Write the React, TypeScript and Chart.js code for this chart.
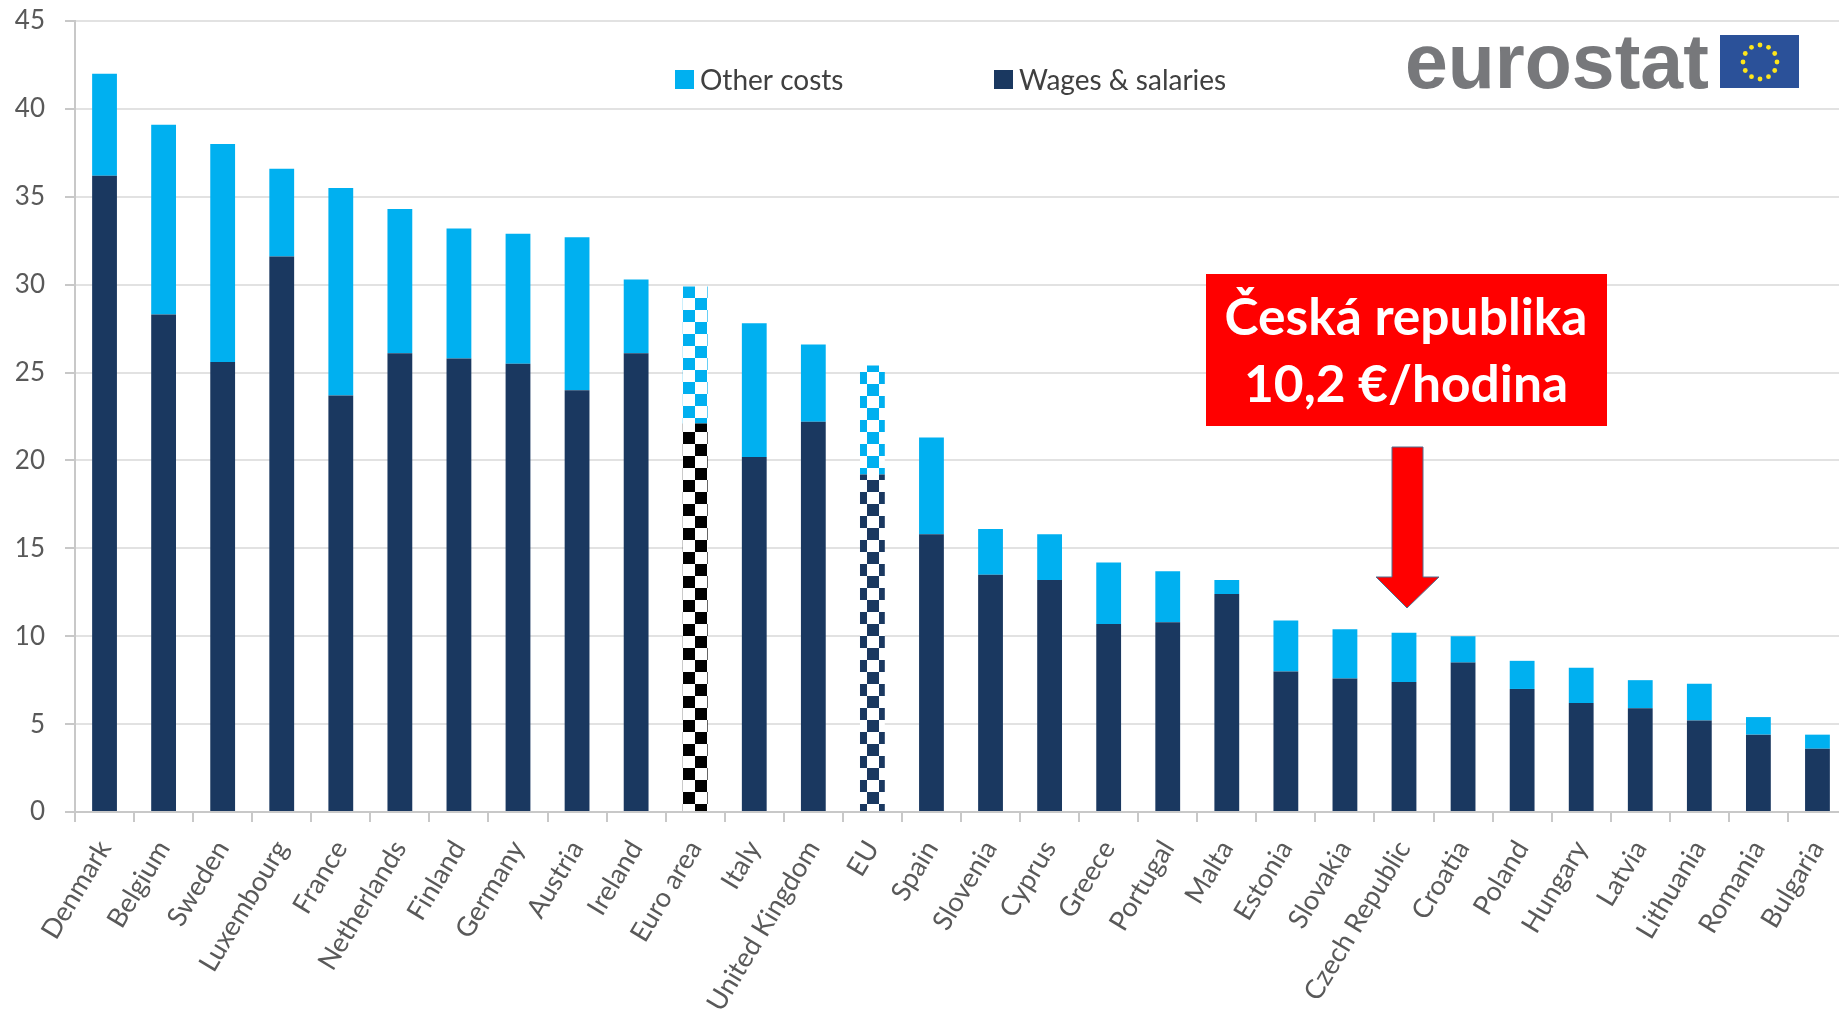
import React, { useEffect, useRef } from "react";
import { Chart, registerables } from "chart.js";

Chart.register(...registerables);

const countries = ["Denmark","Belgium","Sweden","Luxembourg","France","Netherlands","Finland","Germany","Austria","Ireland","Euro area","Italy","United Kingdom","EU","Spain","Slovenia","Cyprus","Greece","Portugal","Malta","Estonia","Slovakia","Czech Republic","Croatia","Poland","Hungary","Latvia","Lithuania","Romania","Bulgaria"];
const wages = [36.2,28.3,25.6,31.6,23.7,26.1,25.8,25.5,24.0,26.1,22.1,20.2,22.2,19.2,15.8,13.5,13.2,10.7,10.8,12.4,8.0,7.6,7.4,8.5,7.0,6.2,5.9,5.2,4.4,3.6];
const otherCosts = [5.8,10.8,12.4,5.0,11.8,8.2,7.4,7.4,8.7,4.2,7.8,7.6,4.4,6.2,5.5,2.6,2.6,3.5,2.9,0.8,2.9,2.8,2.8,1.5,1.6,2.0,1.6,2.1,1.0,0.8];
const yTicks = [0,5,10,15,20,25,30,35,40,45];
const callout = ["Česká republika", "10,2 €/hodina"];
const logoText = "eurostat";

const NAVY = "#1A3860";
const SKY = "#00B0F0";
const FONT = "Lato, Carlito, sans-serif";

function checker(ctx: CanvasRenderingContext2D, color: string, dx: number, dy: number) {
  const c = document.createElement("canvas");
  c.width = 24;
  c.height = 24;
  const g = c.getContext("2d")!;
  g.fillStyle = "#fff";
  g.fillRect(0, 0, 24, 24);
  g.fillStyle = color;
  g.fillRect(0, 0, 12, 12);
  g.fillRect(12, 12, 12, 12);
  const p = ctx.createPattern(c, "repeat")!;
  p.setTransform(new DOMMatrix().translate(dx, dy));
  return p;
}

const overlay = {
  id: "overlay",
  afterDraw(chart: any) {
    const ctx: CanvasRenderingContext2D = chart.ctx;
    ctx.save();

    // legend
    ctx.textBaseline = "middle";
    ctx.textAlign = "left";
    ctx.font = `28px ${FONT}`;
    const legendAt = [{ ds: 1, x: 675 }, { ds: 0, x: 994 }];
    legendAt.forEach(({ ds, x }) => {
      ctx.fillStyle = ds === 1 ? SKY : NAVY;
      ctx.fillRect(x, 70, 19, 19);
      ctx.fillStyle = "#404040";
      ctx.fillText(chart.data.datasets[ds].label, x + 25, 81);
    });

    // logo
    ctx.fillStyle = "#77787B";
    ctx.textBaseline = "alphabetic";
    ctx.font = `bold 77px "Liberation Sans", Arial, sans-serif`;
    ctx.fillText(logoText, 1405, 88, 304);
    ctx.fillStyle = "#2B5199";
    ctx.fillRect(1720, 35, 79, 53);
    ctx.fillStyle = "#FFE61A";
    for (let i = 0; i < 12; i++) {
      const a = (i * Math.PI) / 6;
      ctx.beginPath();
      ctx.arc(1760 + 17 * Math.cos(a), 62 + 17 * Math.sin(a), 2.4, 0, Math.PI * 2);
      ctx.fill();
    }

    // callout box
    ctx.fillStyle = "#FF0000";
    ctx.fillRect(1206, 274, 401, 152);
    ctx.fillStyle = "#FFFFFF";
    ctx.textAlign = "center";
    ctx.font = `bold 51.5px ${FONT}`;
    ctx.fillText(callout[0], 1406, 335);
    ctx.fillText(callout[1], 1406, 402);

    // arrow
    ctx.beginPath();
    ctx.moveTo(1392, 447);
    ctx.lineTo(1423, 447);
    ctx.lineTo(1423, 577);
    ctx.lineTo(1439, 577);
    ctx.lineTo(1407, 608);
    ctx.lineTo(1376, 577);
    ctx.lineTo(1392, 577);
    ctx.closePath();
    ctx.fillStyle = "#FF0000";
    ctx.fill();
    ctx.strokeStyle = "#4F6F8F";
    ctx.lineWidth = 1;
    ctx.stroke();
    ctx.restore();
  },
};

export default function App() {
  const ref = useRef<HTMLCanvasElement>(null);
  useEffect(() => {
    const canvas = ref.current!;
    const ctx = canvas.getContext("2d")!;
    const euroIdx = countries.indexOf("Euro area");
    const euIdx = countries.indexOf("EU");
    const wageFill: any[] = countries.map(() => NAVY);
    const otherFill: any[] = countries.map(() => SKY);
    wageFill[euroIdx] = checker(ctx, "#000000", 11, 0);
    otherFill[euroIdx] = checker(ctx, SKY, 11, 22);
    wageFill[euIdx] = checker(ctx, NAVY, 867, 0);
    otherFill[euIdx] = checker(ctx, SKY, 867, 0);

    const chart = new Chart(canvas, {
      type: "bar",
      data: {
        labels: countries,
        datasets: [
          { label: "Wages & salaries", data: wages, backgroundColor: wageFill, barPercentage: 0.42, categoryPercentage: 1 },
          { label: "Other costs", data: otherCosts, backgroundColor: otherFill, barPercentage: 0.42, categoryPercentage: 1 },
        ],
      },
      options: {
        animation: false,
        responsive: false,
        layout: { padding: { top: 21, right: 5, left: 0, bottom: 0 } },
        plugins: { legend: { display: false }, tooltip: { enabled: false } },
        scales: {
          x: {
            stacked: true,
            afterFit: (s: any) => { s.height = 1013 - 812; s.paddingLeft = 0; s.paddingRight = 0; },
            border: { color: "#C8C8C8", width: 2 },
            grid: { drawOnChartArea: false, drawTicks: true, tickLength: 10, color: "#C8C8C8", lineWidth: 2 },
            ticks: {
              autoSkip: false, minRotation: 59, maxRotation: 59, padding: 13, labelOffset: 0,
              color: "#595959", font: { family: FONT, size: 27 },
            },
          },
          y: {
            stacked: true,
            min: 0,
            max: 45,
            afterFit: (s: any) => { s.width = 75; s.paddingTop = 0; s.paddingBottom = 0; },
            afterBuildTicks: (s: any) => { s.ticks = yTicks.map((value) => ({ value })); },
            border: { color: "#C8C8C8", width: 2 },
            grid: { color: "#E2E2E2", lineWidth: 2, tickLength: 10, tickColor: "#C8C8C8" },
            ticks: { padding: 20, color: "#595959", font: { family: FONT, size: 26 } },
          },
        },
      },
      plugins: [overlay],
    } as any);
    return () => chart.destroy();
  }, []);

  return (
    <div style={{ position: "fixed", left: 0, top: 0, width: 1839, height: 1013, overflow: "hidden", background: "#fff" }}>
      <canvas ref={ref} width={1852} height={1013} style={{ display: "block", filter: "blur(0.7px)" }} />
    </div>
  );
}
